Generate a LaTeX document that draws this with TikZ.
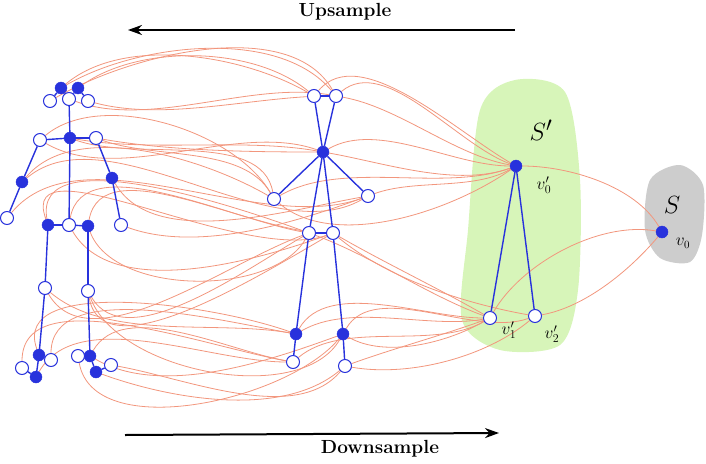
\documentclass[tikz,border=0pt]{standalone}
\usetikzlibrary{backgrounds,arrows.meta}
\definecolor{jblue}{RGB}{40,50,220}
\definecolor{corange}{RGB}{242,150,125}
\definecolor{sgreen}{RGB}{215,245,185}
\definecolor{sgray}{RGB}{205,205,205}
\tikzset{
 fj/.style={circle,fill=jblue,draw=jblue,inner sep=0pt,minimum size=12pt},
 oj/.style={circle,fill=white,draw=jblue,line width=1pt,inner sep=0pt,minimum size=13pt},
 bone/.style={draw=jblue,line width=1.4pt},
 link/.style={draw=corange,line width=0.8pt,looseness=0.8},
 big/.style={-{Stealth[length=14pt,width=10pt]},line width=2pt},
 lbl/.style={font=\fontsize{19}{22}\selectfont\bfseries}
}
\begin{document}
\begin{tikzpicture}[x=1pt,y=-1pt]
\useasboundingbox (0,0) rectangle (706,463);
% left skeleton
\node[fj] (lh1) at (61,88) {};
\node[fj] (lh2) at (78,88) {};
\node[oj] (lh3) at (50,101) {};
\node[oj] (lh4) at (69,99) {};
\node[oj] (lh5) at (88,101) {};
\node[fj] (ln) at (70,138) {};
\node[oj] (lsl) at (40,140) {};
\node[oj] (lsr) at (96,138) {};
\node[fj] (lel) at (22,182) {};
\node[oj] (lhl) at (7,218) {};
\node[fj] (ler) at (112,178) {};
\node[oj] (lhr) at (121,225) {};
\node[fj] (lpl) at (48,225) {};
\node[oj] (lpc) at (69,225) {};
\node[fj] (lpr) at (88,226) {};
\node[oj] (lkl) at (45,288) {};
\node[oj] (lkr) at (88,291) {};
\node[fj] (lfl) at (39,355) {};
\node[oj] (lfl2) at (51,360) {};
\node[oj] (lfl3) at (22,368) {};
\node[fj] (lfl4) at (36,377) {};
\node[fj] (lfr) at (90,356) {};
\node[oj] (lfr2) at (78,356) {};
\node[fj] (lfr3) at (96,372) {};
\node[oj] (lfr4) at (111,365) {};
% middle skeleton
\node[oj] (mh1) at (314,96) {};
\node[oj] (mh2) at (336,96) {};
\node[fj] (mc) at (323,152) {};
\node[oj] (mal) at (274,199) {};
\node[oj] (mar) at (368,196) {};
\node[oj] (mpl) at (309,233) {};
\node[oj] (mpr) at (333,233) {};
\node[fj] (mkl) at (296,334) {};
\node[fj] (mkr) at (343,334) {};
\node[oj] (mfl) at (293,362) {};
\node[oj] (mfr) at (345,366) {};
% right
\node[fj] (v0p) at (516,166) {};
\node[oj] (v1p) at (490,318) {};
\node[oj] (v2p) at (535,316) {};
\node[fj] (v0) at (662,232) {};
\node at (544,185) {\fontsize{18}{20}\selectfont $v_0'$};
\node at (509,330) {\fontsize{18}{20}\selectfont $v_1'$};
\node at (552,334) {\fontsize{18}{20}\selectfont $v_2'$};
\node at (683,243) {\fontsize{16}{18}\selectfont $v_0$};
\node at (541,130) {\fontsize{28}{30}\selectfont $S'$};
\node at (672,205) {\fontsize{28}{30}\selectfont $S$};
\begin{scope}[on background layer]
\path[fill=sgreen] plot[smooth cycle] coordinates {(480,110) (515,80) (565,92) (580,180) (578,290) (560,345) (500,350) (462,320) (468,230)};
\path[fill=sgray] plot[smooth cycle] coordinates {(650,180) (680,165) (703,185) (702,235) (690,262) (660,258) (645,230)};
% links left -> middle
\foreach \a/\b/\o/\i in {lh1/mh1/40/150,lh2/mh1/35/140,lh3/mh2/30/120,lh4/mh2/-20/170,lh5/mh2/-15/180,lh1/mh2/30/130,
 ln/mc/-10/170,lsl/mc/-30/160,lsr/mc/-10/180,lsl/mal/40/120,lsr/mal/-20/120,ln/mal/-20/100,
 lel/mal/50/150,lhl/mar/50/200,ler/mar/-60/190,lhr/mar/-20/200,lel/mar/40/210,
 lpl/mpl/100/160,lpc/mpl/80/170,lpr/mpr/80/180,lpl/mpr/110/200,lpc/mpr/-60/200,
 lkl/mpl/-60/200,lkr/mpl/-60/210,lkr/mpr/-80/210,lpr/mpl/-70/240,
 lfl/mkl/110/160,lfl2/mkl/90/170,lfl3/mfl/90/170,lfl4/mfl/60/180,lkl/mkl/-40/170,
 lfr/mkr/-30/200,lfr2/mkr/-80/230,lfr3/mfr/-20/220,lfr4/mfr/-10/230,lkr/mkr/-70/240,lfr/mfl/60/170}
  \draw[link] (\a) to[out=\o,in=\i] (\b);
% links middle -> S'
\foreach \a/\b/\o/\i in {mh1/v0p/50/150,mh2/v0p/40/160,mh2/v0p/-10/170,mc/v0p/30/180,mc/v0p/-10/200,mal/v0p/30/200,mar/v0p/20/210,mal/v0p/-40/215,
 mpl/v1p/-20/160,mpr/v1p/-30/150,mpr/v2p/-40/170,mkl/v1p/60/180,mkl/v1p/30/190,mfl/v1p/40/210,mkr/v2p/60/200,mfr/v2p/-10/220,mfr/v1p/20/200,mkr/v1p/-30/210}
  \draw[link] (\a) to[out=\o,in=\i] (\b);
% links S' -> S
\draw[link] (v0p) to[out=0,in=120] (v0);
\draw[link] (v1p) to[out=60,in=170] (v0);
\draw[link] (v2p) to[out=10,in=230] (v0);
% bones
\foreach \a/\b in {lh1/lh4,lh2/lh4,lh1/lh3,lh2/lh5,lh4/ln,ln/lpc,lsl/ln,ln/lsr,lsl/lel,lel/lhl,lsr/ler,ler/lhr,lpl/lpc,lpc/lpr,lpl/lkl,lkl/lfl,lpr/lkr,lkr/lfr,lfl/lfl2,lfl/lfl4,lfl4/lfl3,lfr/lfr2,lfr/lfr3,lfr3/lfr4,
 mh1/mh2,mh1/mc,mh2/mc,mc/mal,mc/mar,mc/mpl,mc/mpr,mpl/mpr,mpl/mkl,mkl/mfl,mpr/mkr,mkr/mfr,v0p/v1p,v0p/v2p}
  \draw[bone] (\a) -- (\b);
\end{scope}
% arrows
\coordinate (ua) at (515,30); \coordinate (ub) at (128,30);
\draw[big] (ua) -- (ub);
\node[lbl] at (345,12) {Upsample};
\coordinate (da) at (125,435); \coordinate (db) at (499,433);
\draw[big] (da) -- (db);
\node[lbl] at (380,449) {Downsample};
\end{tikzpicture}
\end{document}
